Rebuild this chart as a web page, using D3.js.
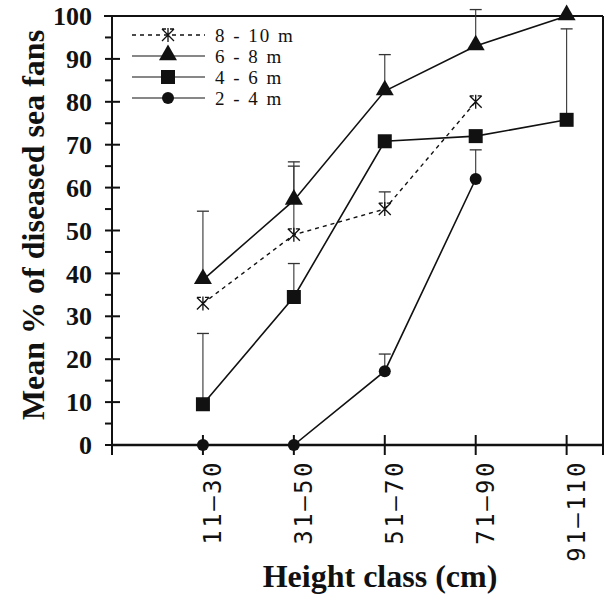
<!DOCTYPE html>
<html>
<head>
<meta charset="utf-8">
<script src="https://cdn.jsdelivr.net/npm/d3@7"></script>
<style>
    body { margin: 0; background: white; }
    text { fill: #111; }
</style>
</head>
<body>
<div id="chartContainer"></div>
<script>
var categories = ["11\u201330", "31\u201350", "51\u201370", "71\u201390", "91\u2013110"];
var yTicks = [0, 10, 20, 30, 40, 50, 60, 70, 80, 90, 100];

// means and upper error bar ends (null = none)
var depth810 = [33, 49, 55, 80, null];
var depth810Err = [null, 66, 59, null, null];
var depth68 = [38.5, 57, 82.5, 93, 100];
var depth68Err = [54.5, 65, 91, 101.5, null];
var depth46 = [9.5, 34.5, 70.8, 72, 75.8];
var depth46Err = [26, 42.3, null, null, 97];
var depth24 = [0, 0, 17.2, 62, null];
var depth24Err = [null, null, 21.2, 68.8, null];

var seriesNames = ["8 - 10 m", "6 - 8 m", "4 - 6 m", "2 - 4 m"];
var seriesMarkers = ["star", "triangle", "square", "circle"];

var width = 609, height = 597;
var serif = "'Liberation Serif', 'Times New Roman', serif";

var svg = d3.select("#chartContainer")
    .append("svg")
    .attr("width", width)
    .attr("height", height);

var x = d3.scaleLinear().domain([0, 5.4]).range([112, 603]);
var y = d3.scaleLinear().domain([0, 100]).range([445, 16]);

// frame (top + right)
svg.append("line").attr("x1", 104).attr("x2", x(5.4)).attr("y1", y(100)).attr("y2", y(100))
    .attr("stroke", "#111").attr("stroke-width", 2.2);
svg.append("line").attr("x1", x(5.4)).attr("x2", x(5.4)).attr("y1", y(100)).attr("y2", y(0) + 10)
    .attr("stroke", "#111").attr("stroke-width", 2);

// y axis
svg.append("line").attr("x1", x(0)).attr("x2", x(0)).attr("y1", y(100)).attr("y2", y(0) + 10)
    .attr("stroke", "#111").attr("stroke-width", 2);
var minor = d3.range(5, 100, 10);
svg.selectAll(".ymin").data(minor).enter().append("line")
    .attr("x1", x(0) - 7).attr("x2", x(0))
    .attr("y1", d => y(d)).attr("y2", d => y(d))
    .attr("stroke", "#111").attr("stroke-width", 2);
svg.selectAll(".ymaj").data(yTicks).enter().append("line")
    .attr("x1", x(0) - 7).attr("x2", x(0) + 8)
    .attr("y1", d => y(d)).attr("y2", d => y(d))
    .attr("stroke", "#111").attr("stroke-width", 2);
svg.selectAll(".ylab").data(yTicks).enter().append("text")
    .attr("x", 92).attr("y", d => y(d)).attr("dy", "0.35em")
    .attr("text-anchor", "end")
    .style("font-family", serif).style("font-weight", "bold").style("font-size", "26px")
    .text(d => d);

// x axis
svg.append("line").attr("x1", x(0)).attr("x2", x(5.4)).attr("y1", y(0)).attr("y2", y(0))
    .attr("stroke", "#111").attr("stroke-width", 2.4);
svg.selectAll(".xtick").data(categories).enter().append("line")
    .attr("x1", (d, i) => x(i + 1)).attr("x2", (d, i) => x(i + 1))
    .attr("y1", y(0) - 10).attr("y2", y(0) + 10)
    .attr("stroke", "#111").attr("stroke-width", 2);
svg.selectAll(".xlab").data(categories).enter().append("text")
    .attr("transform", (d, i) => "translate(" + (x(i + 1) + 18) + "," + 460 + ") rotate(-90)")
    .attr("text-anchor", "end")
    .style("font-family", "'DejaVu Sans Mono', monospace").style("font-size", "24px")
    .style("letter-spacing", "2.5px")
    .text(d => d);

// titles
svg.append("text")
    .attr("x", 380).attr("y", 587).attr("text-anchor", "middle")
    .style("font-family", serif).style("font-weight", "bold").style("font-size", "32px")
    .text("Height class (cm)");
svg.append("text")
    .attr("transform", "translate(44," + 225 + ") rotate(-90)")
    .attr("text-anchor", "middle")
    .style("font-family", serif).style("font-weight", "bold").style("font-size", "32px")
    .text("Mean % of diseased sea fans");

function toPoints(vals, errs) {
    var out = [];
    for (var i = 0; i < vals.length; i++) {
        if (vals[i] != null) out.push({ i: i + 1, v: vals[i], e: errs[i] });
    }
    return out;
}

var allSeries = [
    toPoints(depth810, depth810Err),
    toPoints(depth68, depth68Err),
    toPoints(depth46, depth46Err),
    toPoints(depth24, depth24Err)
];

var line = d3.line().x(d => x(d.i)).y(d => y(d.v));

function drawMarker(g, type, cx, cy) {
    if (type == "triangle") {
        g.append("path").attr("d", d3.symbol().type(d3.symbolTriangle).size(140)())
            .attr("transform", "translate(" + cx + "," + (cy - 1) + ")").attr("fill", "#111");
    } else if (type == "square") {
        g.append("rect").attr("x", cx - 7).attr("y", cy - 7).attr("width", 14).attr("height", 14)
            .attr("fill", "#111");
    } else if (type == "circle") {
        g.append("circle").attr("cx", cx).attr("cy", cy).attr("r", 6).attr("fill", "#111");
    } else {
        var s = 6;
        g.append("path")
            .attr("d", "M" + (cx - s) + "," + (cy - s) + "L" + (cx + s) + "," + (cy + s) +
                "M" + (cx - s) + "," + (cy + s) + "L" + (cx + s) + "," + (cy - s) +
                "M" + cx + "," + (cy - s - 1) + "L" + cx + "," + (cy + s + 1) +
                "M" + (cx - s) + "," + (cy - s) + "L" + (cx - s + 4) + "," + (cy - s) +
                "M" + (cx + s) + "," + (cy - s) + "L" + (cx + s - 4) + "," + (cy - s))
            .attr("stroke", "#111").attr("stroke-width", 1.3).attr("fill", "none");
    }
}

// lines
allSeries.forEach(function (data, k) {
    svg.append("path")
        .datum(data)
        .attr("fill", "none")
        .attr("stroke", "#111")
        .attr("stroke-width", k == 0 ? 1.4 : 1.6)
        .attr("stroke-dasharray", k == 0 ? "4,4" : null)
        .attr("d", line);
});

// error bars
allSeries.forEach(function (data) {
    data.filter(d => d.e != null).forEach(function (d) {
        svg.append("line").attr("x1", x(d.i)).attr("x2", x(d.i)).attr("y1", y(d.v)).attr("y2", y(d.e))
            .attr("stroke", "#333").attr("stroke-width", 1.1);
        svg.append("line").attr("x1", x(d.i) - 6).attr("x2", x(d.i) + 6).attr("y1", y(d.e)).attr("y2", y(d.e))
            .attr("stroke", "#333").attr("stroke-width", 1.3);
    });
});

// markers
allSeries.forEach(function (data, k) {
    var g = svg.append("g");
    data.forEach(function (d) { drawMarker(g, seriesMarkers[k], x(d.i), y(d.v)); });
});

// legend
var legend = svg.append("g");
seriesNames.forEach(function (name, k) {
    var ly = 35 + k * 21;
    legend.append("line").attr("x1", 132).attr("x2", 205).attr("y1", ly).attr("y2", ly)
        .attr("stroke", "#111").attr("stroke-width", k == 0 ? 1.3 : 1.2)
        .attr("stroke-dasharray", k == 0 ? "4,4" : null);
    drawMarker(legend, seriesMarkers[k], 168, ly);
    legend.append("text").attr("x", 215).attr("y", ly).attr("dy", "0.35em")
        .style("font-family", serif).style("font-size", "19px").style("letter-spacing", "2px")
        .text(name);
});
</script>
</body>
</html>
